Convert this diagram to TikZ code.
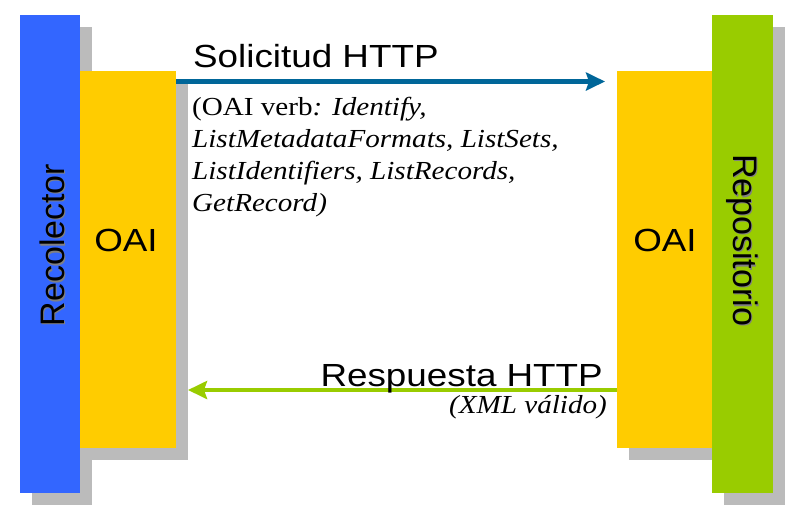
\documentclass[tikz,border=0pt]{standalone}
\usepackage{fontspec}
\usetikzlibrary{calc}
\usetikzlibrary{arrows.meta}
\usetikzlibrary{shadows}
\newfontfamily\barfont{Liberation Sans}
\newfontfamily\labelfont[FakeStretch=1.15]{Liberation Sans}
\newfontfamily\verbfont[FakeStretch=1.12]{Liberation Serif}
\definecolor{recblue}{HTML}{3366FF}
\definecolor{oaiyellow}{HTML}{FFCC00}
\definecolor{repgreen}{HTML}{99CC00}
\definecolor{reqblue}{HTML}{006699}
\definecolor{shadegray}{HTML}{BBBBBB}

\begin{document}
\begin{tikzpicture}[x=1pt, y=-1pt,
    block/.style={draw=none, inner sep=0pt, outer sep=0pt,
        drop shadow={shadow xshift=12pt, shadow yshift=-12pt, fill=shadegray, opacity=1}},
    side/.style={font=\barfont\fontsize{34}{34}\selectfont},
    proto/.style={font=\labelfont\fontsize{32}{32}\selectfont, inner sep=0pt},
    verbs/.style={font=\verbfont\fontsize{26}{32}\selectfont, inner sep=0pt},
    msg/.style={-{Stealth[length=19pt, width=18pt, inset=3pt]}, line width=4.5pt}]
    \useasboundingbox (0,0) rectangle (797,515);
    % side bars and OAI layers
    \node[block, fill=recblue, minimum width=60pt, minimum height=478pt] (rec) at (50,254) {};
    \node[block, fill=oaiyellow, minimum width=96pt, minimum height=377pt] (oaiL) at (128,259.5) {};
    \node[block, fill=oaiyellow, minimum width=95pt, minimum height=377pt] (oaiR) at (664.5,259.5) {};
    \node[block, fill=repgreen, minimum width=61pt, minimum height=478pt] (rep) at (742.5,254) {};
    \node[side, text=gray, rotate=90] at (53.5,246.5) {Recolector};
    \node[side, rotate=90] (recText) at (52,245) {Recolector};
    \node[side, text=gray, rotate=-90] at (743.5,241.5) {Repositorio};
    \node[side, rotate=-90] (repText) at (742,240) {Repositorio};
    \node[proto] (oaiLText) at (126,240) {OAI};
    \node[proto] (oaiRText) at (665,240) {OAI};
    % request and response
    \coordinate (req) at (0,81.5);
    \coordinate (resp) at (0,390);
    \draw[msg, reqblue] (oaiL.east |- req) -- ($(oaiR.west |- req)+(-12,0)$);
    \draw[msg, repgreen] (oaiR.west |- resp) -- ($(oaiL.east |- resp)+(12,0)$);
    \node[proto, anchor=base west] (reqText) at (193,67) {Solicitud HTTP};
    \node[verbs, anchor=north west, align=left] (verbText) at (192,97)
        {(OAI verb\textit{: Identify,}\\ \textit{ListMetadataFormats, ListSets,}\\
         \textit{ListIdentifiers, ListRecords,}\\ \textit{GetRecord)}};
    \node[proto, anchor=base east] (respText) at (603,386) {Respuesta HTTP};
    \node[verbs, anchor=base east] (xmlText) at (607,413) {\textit{(XML válido)}};
\end{tikzpicture}
\end{document}
